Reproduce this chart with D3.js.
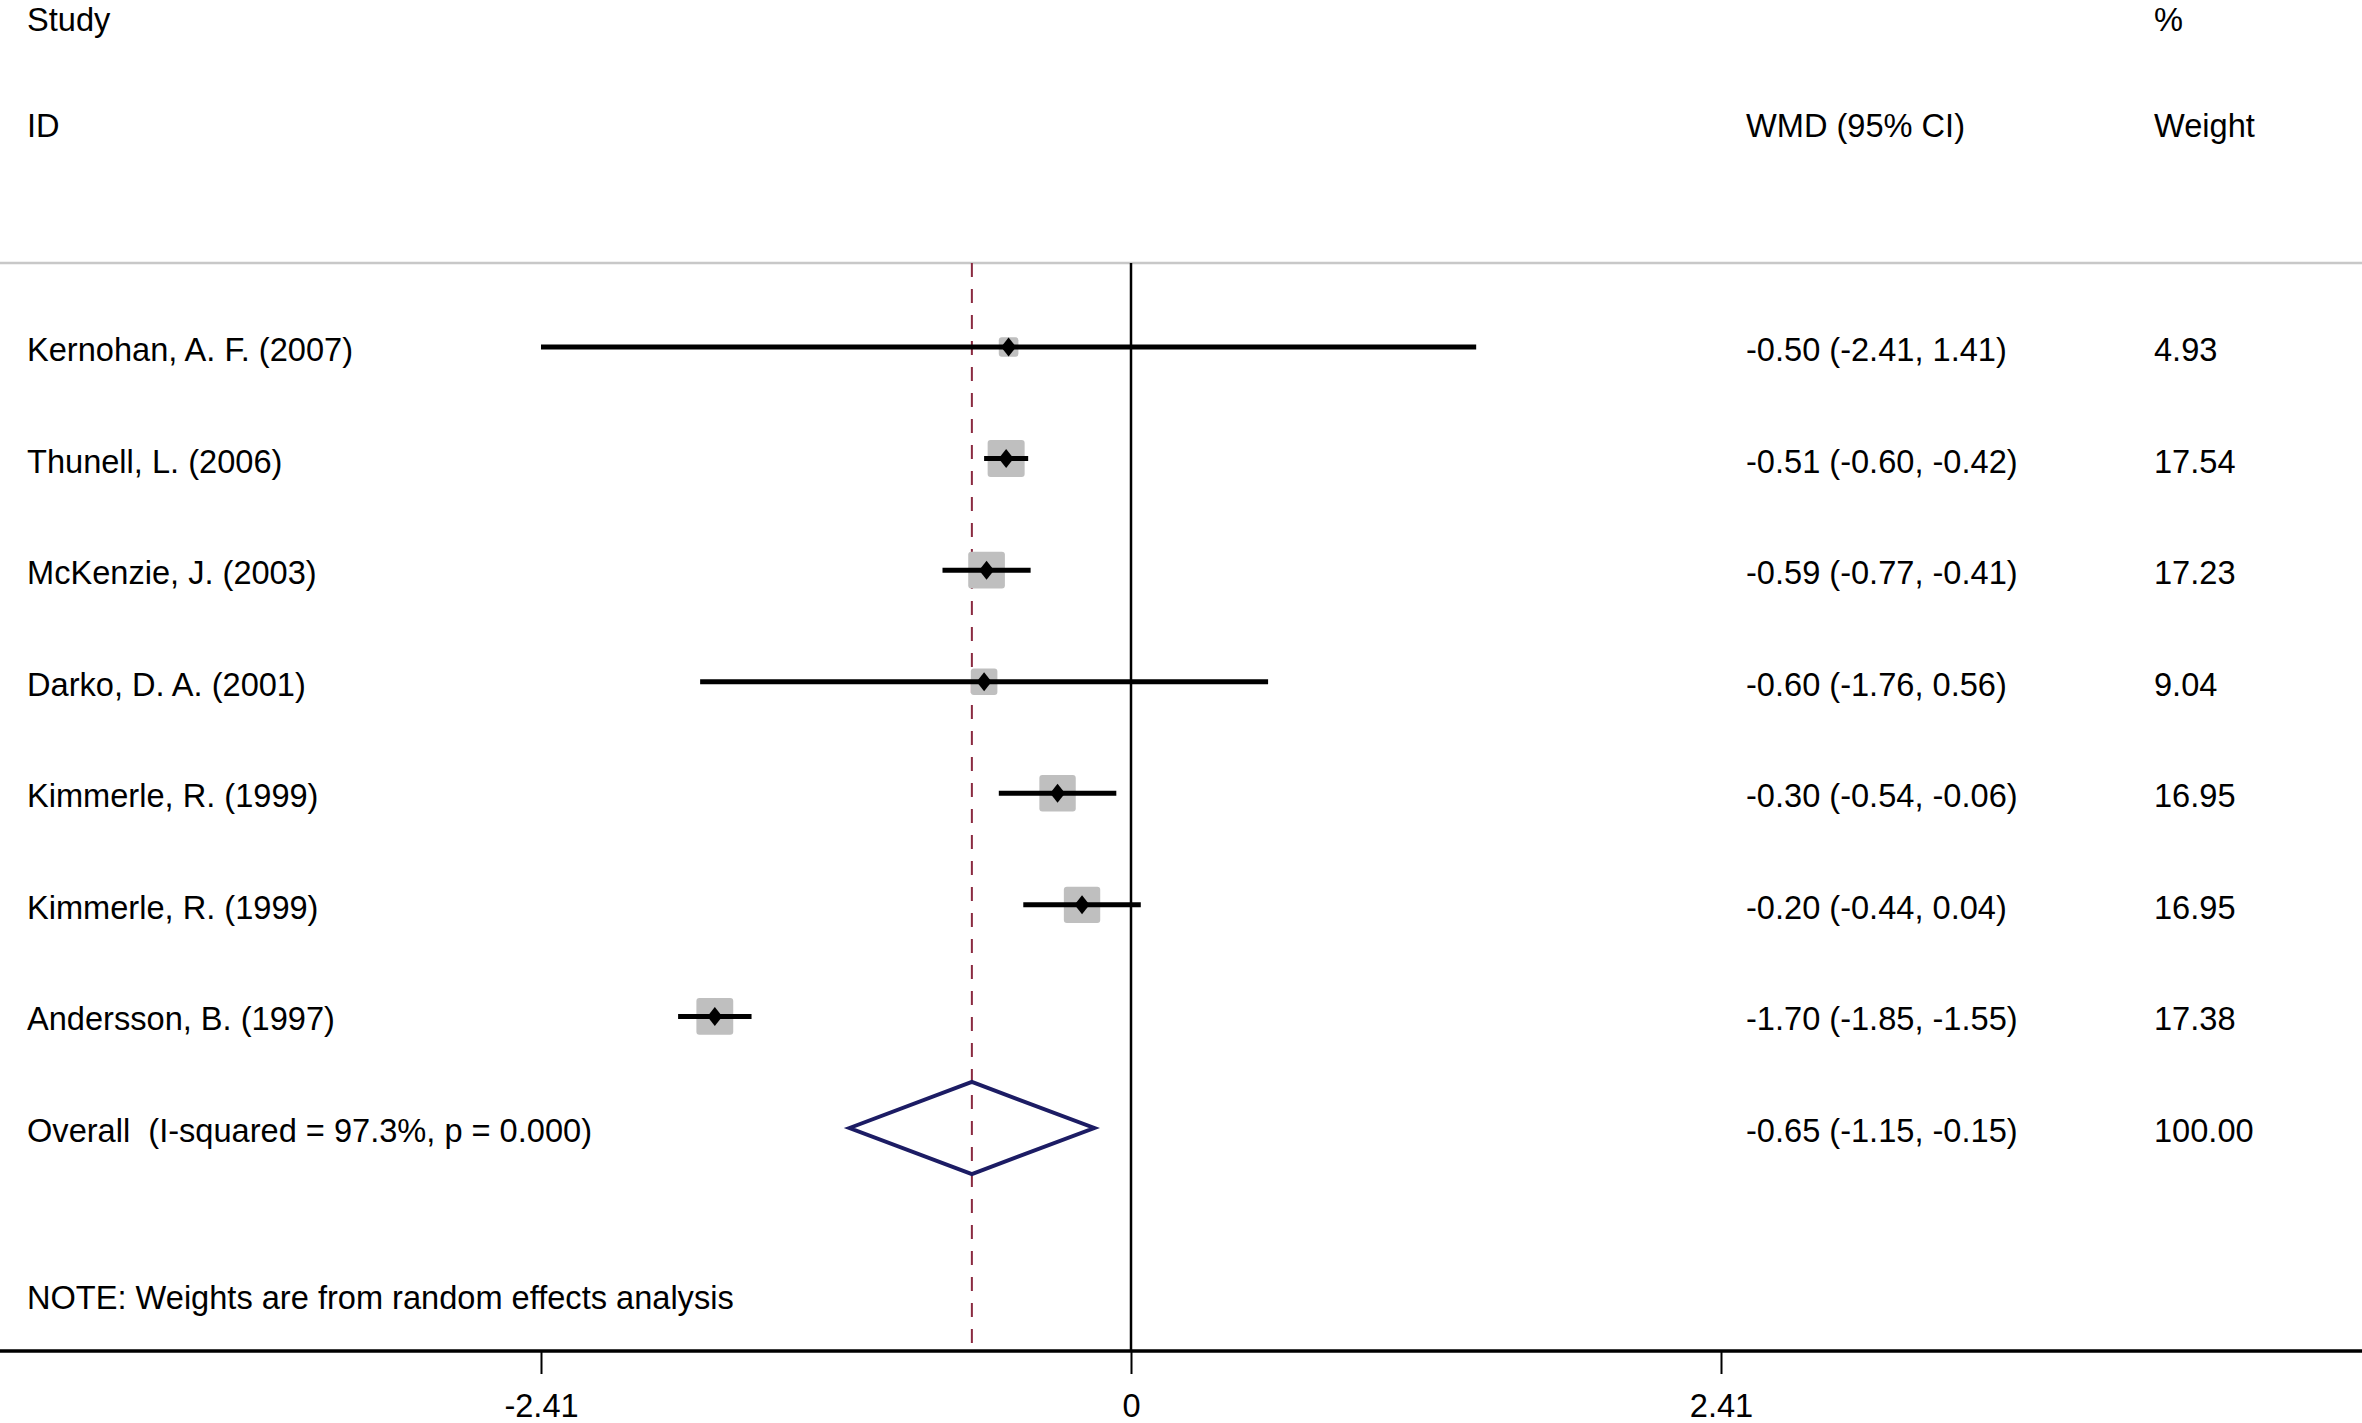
<!DOCTYPE html>
<html>
<head>
<meta charset="utf-8">
<script src="https://cdn.jsdelivr.net/npm/d3@7"></script>
<style>
    body { margin: 0; background: #fff; }
    svg text { font-family: "Liberation Sans", Arial, sans-serif; font-size: 32.6px; fill: #000; white-space: pre; }
</style>
</head>
<body>
<svg width="2362" height="1423"></svg>
<script>
var svg = d3.select('svg');

// study data
var studies = ['Kernohan, A. F. (2007)', 'Thunell, L. (2006)', 'McKenzie, J. (2003)', 'Darko, D. A. (2001)',
    'Kimmerle, R. (1999)', 'Kimmerle, R. (1999)', 'Andersson, B. (1997)'];
var estimates = [-0.50, -0.51, -0.59, -0.60, -0.30, -0.20, -1.70];
var lowerCI = [-2.41, -0.60, -0.77, -1.76, -0.54, -0.44, -1.85];
var upperCI = [1.41, -0.42, -0.41, 0.56, -0.06, 0.04, -1.55];
var weights = [4.93, 17.54, 17.23, 9.04, 16.95, 16.95, 17.38];

var overallLabel = 'Overall  (I-squared = 97.3%, p = 0.000)';
var overallEstimate = -0.65;
var overallLower = -1.15;
var overallUpper = -0.15;
var overallWeight = 100.00;

var tickValues = [-2.41, 0, 2.41];
var noteText = 'NOTE: Weights are from random effects analysis';

var rows = studies.map(function(s, i){
    return {study: s, est: estimates[i], lo: lowerCI[i], hi: upperCI[i], w: weights[i], i: i};
});

var f2 = function(v){ return v.toFixed(2); };
var ciText = function(e, l, h){ return f2(e) + ' (' + f2(l) + ', ' + f2(h) + ')'; };

var x = d3.scaleLinear().domain([-2.41, 2.41]).range([541, 1721]);
var y = d3.scaleLinear().domain([0, 7]).range([347, 1128]);
var boxSide = d3.scaleSqrt().domain([0, 17.54]).range([0, 37]);

var topY = 263, axisY = 1351;
var labelX = 27, ciX = 1746, wX = 2154;

// headers
svg.append('text').attr('x', labelX).attr('y', 31).text('Study');
svg.append('text').attr('x', labelX).attr('y', 137).text('ID');
svg.append('text').attr('x', ciX).attr('y', 137).text('WMD (95% CI)');
svg.append('text').attr('x', wX).attr('y', 31).text('%');
svg.append('text').attr('x', wX).attr('y', 137).text('Weight');

svg.append('line')
    .attr('x1', 0).attr('x2', 2362)
    .attr('y1', topY).attr('y2', topY)
    .attr('stroke', '#c8c8c8')
    .attr('stroke-width', 2.5);

// zero line and overall line
svg.append('line')
    .attr('x1', x(0)).attr('x2', x(0))
    .attr('y1', topY).attr('y2', axisY)
    .attr('stroke', '#000')
    .attr('stroke-width', 2.5);

svg.append('line')
    .attr('x1', x(overallEstimate)).attr('x2', x(overallEstimate))
    .attr('y1', topY).attr('y2', axisY)
    .attr('stroke', '#8a2a40')
    .attr('stroke-width', 2)
    .attr('stroke-dasharray', '14,12');

// weight boxes
svg.selectAll('rect.box')
    .data(rows)
    .enter()
    .append('rect')
    .attr('class', 'box')
    .attr('x', function(d){ return x(d.est) - boxSide(d.w) / 2; })
    .attr('y', function(d){ return y(d.i) - boxSide(d.w) / 2; })
    .attr('width', function(d){ return boxSide(d.w); })
    .attr('height', function(d){ return boxSide(d.w); })
    .attr('rx', 3)
    .attr('fill', '#bfbfbf');

// confidence intervals
svg.selectAll('line.ci')
    .data(rows)
    .enter()
    .append('line')
    .attr('class', 'ci')
    .attr('x1', function(d){ return x(d.lo); })
    .attr('x2', function(d){ return x(d.hi); })
    .attr('y1', function(d){ return y(d.i); })
    .attr('y2', function(d){ return y(d.i); })
    .attr('stroke', '#000')
    .attr('stroke-width', 5);

// point markers
svg.selectAll('path.pt')
    .data(rows)
    .enter()
    .append('path')
    .attr('class', 'pt')
    .attr('d', function(d){
        var cx = x(d.est), cy = y(d.i);
        return 'M' + (cx - 7.5) + ',' + cy + 'L' + cx + ',' + (cy - 9.5) + 'L' + (cx + 7.5) + ',' + cy + 'L' + cx + ',' + (cy + 9.5) + 'Z';
    })
    .attr('fill', '#000');

// text columns
svg.selectAll('text.study')
    .data(rows)
    .enter()
    .append('text')
    .attr('class', 'study')
    .attr('x', labelX)
    .attr('y', function(d){ return y(d.i) + 14; })
    .text(function(d){ return d.study; });

svg.selectAll('text.ci')
    .data(rows)
    .enter()
    .append('text')
    .attr('class', 'ci')
    .attr('x', ciX)
    .attr('y', function(d){ return y(d.i) + 14; })
    .text(function(d){ return ciText(d.est, d.lo, d.hi); });

svg.selectAll('text.wt')
    .data(rows)
    .enter()
    .append('text')
    .attr('class', 'wt')
    .attr('x', wX)
    .attr('y', function(d){ return y(d.i) + 14; })
    .text(function(d){ return f2(d.w); });

// overall row
var oy = y(7);
svg.append('path')
    .attr('d', 'M' + x(overallLower) + ',' + oy + 'L' + x(overallEstimate) + ',' + (oy - 46) +
        'L' + x(overallUpper) + ',' + oy + 'L' + x(overallEstimate) + ',' + (oy + 46) + 'Z')
    .attr('fill', 'none')
    .attr('stroke', '#1c1c64')
    .attr('stroke-width', 4);
svg.append('text').attr('x', labelX).attr('y', oy + 14).text(overallLabel);
svg.append('text').attr('x', ciX).attr('y', oy + 14).text(ciText(overallEstimate, overallLower, overallUpper));
svg.append('text').attr('x', wX).attr('y', oy + 14).text(f2(overallWeight));

svg.append('text').attr('x', labelX).attr('y', 1309).text(noteText);

// x axis
svg.append('line')
    .attr('x1', 0).attr('x2', 2362)
    .attr('y1', axisY).attr('y2', axisY)
    .attr('stroke', '#000')
    .attr('stroke-width', 3.5);

var axis = svg.append('g')
    .attr('transform', 'translate(0,' + axisY + ')')
    .call(d3.axisBottom(x)
        .tickValues(tickValues)
        .tickSize(23)
        .tickPadding(20)
        .tickFormat(function(d){ return d === 0 ? '0' : d.toFixed(2); }));
axis.select('.domain').remove();
axis.selectAll('line').attr('stroke', '#000').attr('stroke-width', 2);
axis.selectAll('text')
    .attr('font-family', '"Liberation Sans", Arial, sans-serif')
    .attr('font-size', 32.6)
    .attr('fill', '#000');
</script>
</body>
</html>
